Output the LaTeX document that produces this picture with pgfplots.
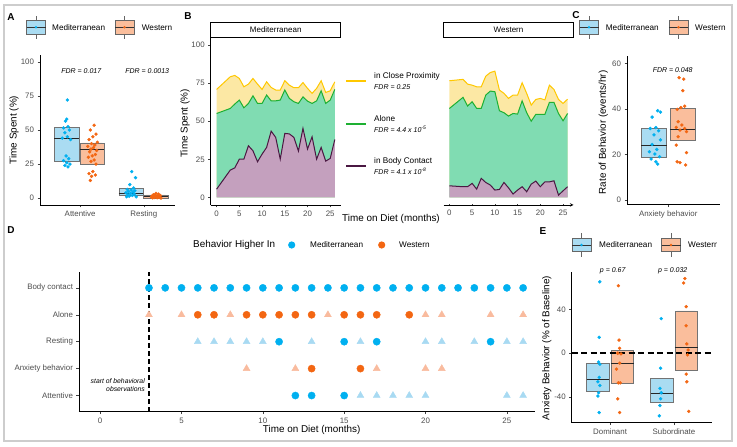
\documentclass[border=0pt]{standalone}
\usepackage{pgfplots}
\pgfplotsset{compat=1.18}
\usepackage{pgfplotstable}
\usepgfplotslibrary{statistics}
\usepackage{fontspec}
\setmainfont{Liberation Sans}

\definecolor{medblue}{RGB}{0,176,240}
\definecolor{westor}{RGB}{243,102,18}
\definecolor{medfill}{RGB}{170,220,242}
\definecolor{westfill}{RGB}{250,190,156}
\definecolor{medtri}{RGB}{168,218,242}
\definecolor{westtri}{RGB}{249,187,158}
\definecolor{ylfill}{RGB}{252,232,164}
\definecolor{ylline}{RGB}{255,200,0}
\definecolor{grfill}{RGB}{128,220,178}
\definecolor{grline}{RGB}{30,176,50}
\definecolor{pufill}{RGB}{196,160,190}
\definecolor{puline}{RGB}{74,24,66}
\definecolor{tickgray}{RGB}{77,77,77}
\definecolor{framegray}{RGB}{205,205,205}

\pgfplotsset{
  gg/.style={scale only axis, anchor=south west,
    axis lines=left, axis line style={-, line width=0.6pt, black},
    tick align=outside, major tick length=2.5pt,
    tick style={black!75, line width=0.5pt},
    tick label style={font=\fontsize{7.9}{9}\selectfont, text=tickgray},
    /pgf/number format/assume math mode=true, minor tick num=0,
    boxplot/draw direction=y},
  boxplot/every median/.style={black!85, line width=0.8pt},
}

\pgfplotstableread{
m P G Y
0 5.4 55.1 70.9
3 17.9 58.4 79.2
4 19.4 61.3 80.1
5 25.1 63.9 78.1
6 25.1 58.8 72.6
7 33.9 61.7 74.4
8 30.6 66.7 78.1
9 23.4 61.7 74.4
10 28.4 61.7 70.9
11 32.8 67.2 75.9
12 43.5 63.4 72.2
13 39.4 63.4 70.5
14 25.1 63.9 70.5
15 42.0 70.5 76.6
16 41.7 65.0 73.7
17 39.4 62.8 72.0
18 30.4 61.7 72.0
19 45.3 66.0 75.4
20 31.7 63.2 71.6
21 39.8 61.7 68.3
22 25.1 63.4 71.6
23 32.8 70.0 76.6
24 23.8 61.7 68.9
25 25.6 63.9 70.0
26 38.0 70.9 75.9
}\medB

\pgfplotstableread{
m P G Y
0 7.6 58.4 76.6
3 7.0 65.7 77.5
4 7.0 60.0 74.4
5 9.2 62.8 73.7
6 5.4 58.4 72.6
7 12.5 58.4 72.6
8 9.8 67.2 79.6
9 8.1 69.8 82.0
10 4.8 69.4 82.9
11 5.2 56.9 70.5
12 9.8 55.6 68.3
13 6.3 53.4 65.0
14 2.2 55.1 67.2
15 4.8 54.7 67.2
16 7.0 63.4 75.3
17 3.7 55.6 68.3
18 8.7 50.0 60.6
19 10.7 54.5 64.3
20 7.0 54.5 65.0
21 10.2 54.5 64.0
22 10.2 62.4 73.7
23 10.9 62.4 70.9
24 1.5 55.1 64.3
25 4.3 50.3 61.7
26 7.0 55.1 64.5
}\westB

\newcommand{\boxkey}[4]{%
  \begin{scope}[shift={(#1,#2)}]
    \draw[black!60, line width=0.5pt] (9.5pt,6.65pt) -- (9.5pt,11.7pt) (9.5pt,-6.65pt) -- (9.5pt,-11.7pt);
    \draw[black!60, line width=0.5pt, fill=#3] (0pt,-6.65pt) rectangle (19pt,6.65pt);
    \draw[black!80, line width=0.6pt] (0pt,0pt) -- (19pt,0pt);
    \fill[#4] (9.5pt,0pt) circle (1.4pt);
  \end{scope}}

\newcommand{\lfont}{\fontsize{8.2}{9}\selectfont}
\newcommand{\tfont}{\fontsize{9.9}{11}\selectfont}
\newcommand{\sfont}{\itshape\fontsize{7}{8}\selectfont}

\begin{document}
\begin{tikzpicture}
\useasboundingbox (0pt,0pt) rectangle (737pt,447pt);
\draw[framegray, line width=1.5pt] (4pt,6pt) rectangle (732pt,442pt);

% ---------------- Panel A ----------------
\node[font=\bfseries\fontsize{10}{11}\selectfont] at (11pt,430pt) {A};
\boxkey{26.5pt}{419.7pt}{medfill}{medblue}
\node[anchor=west, font=\lfont, inner sep=0pt] at (52pt,419.7pt) {Mediterranean};
\boxkey{115pt}{419.7pt}{westfill}{westor}
\node[anchor=west, font=\lfont, inner sep=0pt] at (141.7pt,419.7pt) {Western};
\node[rotate=90, font=\tfont] at (14pt,317pt) {Time Spent (\%)};

\begin{axis}[gg, at={(40pt,242pt)}, width=135pt, height=150pt,
  xmin=0.37, xmax=2.49, ymin=-5, ymax=105,
  xtick={1,2}, xticklabels={Attentive,Resting}, ytick={0,25,50,75,100}]
\addplot[boxplot prepared={draw position=0.786, box extend=0.385, median=44, lower quartile=27, upper quartile=52, lower whisker=27, upper whisker=52}, fill=medfill, draw=black!55] coordinates {};
\addplot[boxplot prepared={draw position=1.19, box extend=0.385, median=35.5, lower quartile=25, upper quartile=40.5, lower whisker=25, upper whisker=40.5}, fill=westfill, draw=black!55] coordinates {};
\addplot[boxplot prepared={draw position=1.8, box extend=0.385, median=3.5, lower quartile=2.5, upper quartile=7, lower whisker=2.5, upper whisker=7}, fill=medfill, draw=black!55] coordinates {};
\addplot[boxplot prepared={draw position=2.19, box extend=0.385, median=1, lower quartile=0, upper quartile=2.5, lower whisker=0, upper whisker=2.5}, fill=westfill, draw=black!55] coordinates {};
\addplot[only marks, mark=*, mark size=1.5pt, medblue] coordinates {
(0.80,72) (0.79,58) (0.77,56.5) (0.81,52.5) (0.74,51.5) (0.83,50) (0.76,48) (0.80,45) (0.72,44) (0.85,43) (0.78,31) (0.82,29) (0.74,27.5) (0.79,26) (0.84,25) (0.76,24) (0.81,23)
(1.81,19.5) (1.87,15) (1.78,10) (1.84,7.5) (1.74,6.5) (1.80,6) (1.86,5.5) (1.76,5) (1.83,4.5) (1.72,4) (1.79,3.5) (1.85,3) (1.75,2.5) (1.82,2) (1.77,1.5) (1.88,1) (1.73,1)};
\addplot[only marks, mark=*, mark size=1.5pt, westor] coordinates {
(1.22,53.5) (1.16,50) (1.25,47) (1.20,45) (1.14,43) (1.27,41) (1.18,40) (1.23,39) (1.12,38) (1.21,37) (1.17,36) (1.26,35) (1.15,34) (1.24,32) (1.19,31) (1.13,30) (1.22,28) (1.17,27) (1.25,25) (1.20,19.5) (1.14,18) (1.24,17) (1.18,16) (1.16,13)
(2.19,3.5) (2.23,3) (2.15,2.5) (2.26,2) (2.18,2) (2.13,1.5) (2.22,1.5) (2.16,1) (2.25,1) (2.20,1) (2.12,0.8) (2.24,0.5) (2.17,0.5) (2.21,0.3) (2.14,0.2) (2.27,0)};
\end{axis}
\node[font=\sfont] at (81.3pt,376.3pt) {FDR = 0.017};
\node[font=\sfont] at (147.2pt,376.3pt) {FDR = 0.0013};

% ---------------- Panel B ----------------
\node[font=\bfseries\fontsize{10}{11}\selectfont] at (188pt,431pt) {B};
\node[rotate=90, font=\tfont] at (185pt,323.5pt) {Time Spent (\%)};
\draw[black, line width=1pt] (210.7pt,409.7pt) rectangle (340.7pt,424.7pt);
\node[font=\fontsize{8}{9}\selectfont] at (275.7pt,417.2pt) {Mediterranean};
\draw[black, line width=1pt] (443.5pt,409.7pt) rectangle (573.5pt,424.7pt);
\node[font=\fontsize{8}{9}\selectfont] at (508.5pt,417.2pt) {Western};

\begin{axis}[gg, at={(210.7pt,242pt)}, width=130pt, height=167.5pt,
  xmin=-1.3, xmax=27.3, ymin=-5, ymax=105,
  xtick={0,5,...,25}, ytick={0,25,50,75,100}]
\addplot[fill=ylfill, draw=none] table[x=m, y=Y] {\medB} \closedcycle;
\addplot[fill=grfill, draw=none] table[x=m, y=G] {\medB} \closedcycle;
\addplot[fill=pufill, draw=none] table[x=m, y=P] {\medB} \closedcycle;
\addplot[ylline, line width=1pt] table[x=m, y=Y] {\medB};
\addplot[grline, line width=1pt] table[x=m, y=G] {\medB};
\addplot[puline, line width=1pt] table[x=m, y=P] {\medB};
\end{axis}

\begin{axis}[gg, axis x line=bottom, axis y line=none, at={(443.5pt,242pt)}, width=130pt, height=167.5pt,
  xmin=-1.3, xmax=27.3, ymin=-5, ymax=105,
  xtick={0,5,...,25}, ytick=\empty]
\addplot[fill=ylfill, draw=none] table[x=m, y=Y] {\westB} \closedcycle;
\addplot[fill=grfill, draw=none] table[x=m, y=G] {\westB} \closedcycle;
\addplot[fill=pufill, draw=none] table[x=m, y=P] {\westB} \closedcycle;
\addplot[ylline, line width=1pt] table[x=m, y=Y] {\westB};
\addplot[grline, line width=1pt] table[x=m, y=G] {\westB};
\addplot[puline, line width=1pt] table[x=m, y=P] {\westB};
\end{axis}
\node[font=\tfont] at (391pt,228pt) {Time on Diet (months)};

% B legend
\draw[ylline, line width=1.8pt] (346pt,366pt) -- (365.7pt,366pt);
\draw[grline, line width=1.8pt] (346pt,323pt) -- (365.7pt,323pt);
\draw[puline, line width=1.8pt] (346pt,281pt) -- (365.7pt,281pt);
\node[anchor=west, font=\lfont, inner sep=0pt] at (374pt,370.3pt) {in Close Proximity};
\node[anchor=west, font=\sfont, inner sep=0pt] at (374pt,359.7pt) {FDR = 0.25};
\node[anchor=west, font=\lfont, inner sep=0pt] at (374pt,328pt) {Alone};
\node[anchor=west, font=\sfont, inner sep=0pt] at (374pt,317.7pt) {FDR = 4.4 x 10\textsuperscript{-5}};
\node[anchor=west, font=\lfont, inner sep=0pt] at (374pt,285.7pt) {in Body Contact};
\node[anchor=west, font=\sfont, inner sep=0pt] at (374pt,275.3pt) {FDR = 4.1 x 10\textsuperscript{-8}};

% ---------------- Panel C ----------------
\node[font=\bfseries\fontsize{10}{11}\selectfont] at (576pt,432pt) {C};
\boxkey{579.5pt}{419.7pt}{medfill}{medblue}
\node[anchor=west, font=\lfont, inner sep=0pt] at (605.7pt,419.7pt) {Mediterranean};
\boxkey{669pt}{419.7pt}{westfill}{westor}
\node[anchor=west, font=\lfont, inner sep=0pt] at (695pt,419.7pt) {Western};
\node[rotate=90, font=\tfont] at (603.3pt,314.5pt) {Rate of Behavior (events/hr)};

\begin{axis}[gg, at={(627pt,242.4pt)}, width=93pt, height=148.1pt,
  xmin=0, xmax=1, ymin=-2, ymax=63,
  xtick={0.443}, xticklabels={Anxiety behavior}, ytick={0,20,40,60}]
\addplot[boxplot prepared={draw position=0.289, box extend=0.274, median=24.1, lower quartile=19, upper quartile=31.4, lower whisker=19, upper whisker=31.4}, fill=medfill, draw=black!55] coordinates {};
\addplot[boxplot prepared={draw position=0.597, box extend=0.274, median=31.1, lower quartile=26.3, upper quartile=40.2, lower whisker=26.3, upper whisker=40.2}, fill=westfill, draw=black!55] coordinates {};
\addplot[only marks, mark=*, mark size=1.5pt, medblue] coordinates {
(0.33,39.2) (0.36,38.6) (0.27,36.4) (0.31,31.8) (0.25,31.4) (0.34,30.4) (0.29,28.6) (0.36,26.4) (0.27,24.4) (0.32,22.2) (0.24,21.2) (0.30,20.2) (0.35,19.0) (0.26,18.0) (0.31,16.8) (0.33,15.8)};
\addplot[only marks, mark=*, mark size=1.5pt, westor] coordinates {
(0.56,53.7) (0.61,53.1) (0.60,48) (0.62,41.2) (0.58,40.6) (0.54,39.8) (0.55,34.4) (0.59,32.9) (0.53,31.9) (0.62,31.4) (0.57,30.7) (0.64,30) (0.55,27.8) (0.53,24.1) (0.64,20.8) (0.54,16.8) (0.57,16.4) (0.63,15.4)};
\end{axis}
\node[font=\sfont] at (672.7pt,377pt) {FDR = 0.048};

% ---------------- Panel D ----------------
\node[font=\bfseries\fontsize{10}{11}\selectfont] at (11pt,217pt) {D};
\node[anchor=west, font=\tfont, inner sep=0pt] at (193pt,202pt) {Behavior Higher In};
\fill[medblue] (291.7pt,202pt) circle (3.6pt);
\node[anchor=west, font=\lfont, inner sep=0pt] at (310pt,202pt) {Mediterranean};
\fill[westor] (381.7pt,202pt) circle (3.6pt);
\node[anchor=west, font=\lfont, inner sep=0pt] at (399pt,202pt) {Western};

\begin{axis}[gg, at={(79pt,35.3pt)}, width=456pt, height=140pt,
  xmin=-1.3, xmax=26.73, ymin=0.4, ymax=5.6,
  xtick={0,5,...,25}, ytick={1,2,3,4,5},
  yticklabels={Attentive,Anxiety behavior,Resting,Alone,Body contact}]
\addplot[black, line width=2.2pt, dash pattern=on 5pt off 3pt] coordinates {(3,0.4) (3,5.6)};
\addplot[only marks, mark=triangle*, mark size=4pt, medtri] coordinates {
(6,3)(7,3)(8,3)(9,3)(10,3)(13,3)(16,3)(20,3)(21,3)(23,3)(25,3)(26,3)
(16,1)(17,1)(18,1)(19,1)(20,1)(25,1)(26,1)};
\addplot[only marks, mark=triangle*, mark size=4pt, westtri] coordinates {
(3,4)(5,4)(8,4)(14,4)(20,4)(21,4)(24,4)(26,4)
(9,2)(12,2)(17,2)(20,2)(21,2)};
\addplot[only marks, mark=*, mark size=3.6pt, medblue] coordinates {
(3,5)(4,5)(5,5)(6,5)(7,5)(8,5)(9,5)(10,5)(11,5)(12,5)(13,5)(14,5)(15,5)(16,5)(17,5)(18,5)(19,5)(20,5)(21,5)(22,5)(23,5)(24,5)(25,5)(26,5)
(11,3)(15,3)(17,3)(24,3)
(12,1)(13,1)(15,1)};
\addplot[only marks, mark=*, mark size=3.6pt, westor] coordinates {
(6,4)(7,4)(9,4)(10,4)(11,4)(12,4)(13,4)(15,4)(16,4)(17,4)(19,4)
(13,2)(16,2)};
\end{axis}
\node[anchor=east, align=right, font=\itshape\fontsize{6.8}{8.6}\selectfont, inner sep=0pt] at (145pt,62pt) {start of behavioral\\observations};
\node[font=\tfont] at (311.7pt,17pt) {Time on Diet (months)};

% ---------------- Panel E ----------------
\node[font=\bfseries\fontsize{10}{11}\selectfont] at (543pt,216pt) {E};
\boxkey{572pt}{202pt}{medfill}{medblue}
\node[anchor=west, font=\lfont, inner sep=0pt] at (599pt,202pt) {Mediterranean};
\boxkey{661.5pt}{202pt}{westfill}{westor}
\begin{scope}
\clip (680pt,190pt) rectangle (716.5pt,214pt);
\node[anchor=west, font=\lfont, inner sep=0pt] at (688pt,202pt) {Western};
\end{scope}
\node[rotate=90, font=\tfont] at (546.7pt,99pt) {Anxiety Behavior (\% of Baseline)};

\begin{axis}[gg, at={(571.7pt,24.3pt)}, width=140.7pt, height=151pt,
  xmin=0.4, xmax=2.6, ymin=-63.25, ymax=74.25,
  xtick={1,2}, xticklabels={Dominant,Subordinate}, ytick={-40,0,40}]
\addplot[boxplot prepared={draw position=0.81, box extend=0.355, median=-24.2, lower quartile=-34.8, upper quartile=-9.1, lower whisker=-34.8, upper whisker=-9.1}, fill=medfill, draw=black!55] coordinates {};
\addplot[boxplot prepared={draw position=1.19, box extend=0.355, median=-9.1, lower quartile=-27.3, upper quartile=2.4, lower whisker=-27.3, upper whisker=2.4}, fill=westfill, draw=black!55] coordinates {};
\addplot[boxplot prepared={draw position=1.81, box extend=0.355, median=-36.4, lower quartile=-44.8, upper quartile=-22.7, lower whisker=-44.8, upper whisker=-22.7}, fill=medfill, draw=black!55] coordinates {};
\addplot[boxplot prepared={draw position=2.19, box extend=0.355, median=5.5, lower quartile=-15.2, upper quartile=38.5, lower whisker=-15.2, upper whisker=38.5}, fill=westfill, draw=black!55] coordinates {};
\addplot[black, line width=2pt, dash pattern=on 6pt off 3.5pt] coordinates {(0.4,0) (2.6,0)};
\addplot[only marks, mark=*, mark size=1.5pt, medblue] coordinates {
(0.84,65) (0.83,14.5) (0.82,-8) (0.84,-10) (0.83,-22) (0.81,-26) (0.84,-29.4) (0.82,-36) (0.81,-39) (0.83,-54)
(1.80,31.5) (1.79,-13.6) (1.78,-32) (1.80,-36) (1.79,-41.5) (1.78,-47.6) (1.77,-57)};
\addplot[only marks, mark=*, mark size=1.5pt, westor] coordinates {
(1.13,61.5) (1.14,12) (1.15,4.5) (1.12,0) (1.17,-0.6) (1.15,-9) (1.10,-14.5) (1.13,-27) (1.16,-27) (1.12,-41.5) (1.15,-54)
(2.17,68) (2.15,64) (2.19,42.4) (2.19,25) (2.20,8.5) (2.22,3) (2.21,-1.5) (2.19,-19) (2.20,-26) (2.23,-53)};
\end{axis}
\node[font=\sfont] at (612.7pt,176.3pt) {p = 0.67};
\node[font=\sfont] at (672.7pt,176.3pt) {p = 0.032};

\end{tikzpicture}
\end{document}
